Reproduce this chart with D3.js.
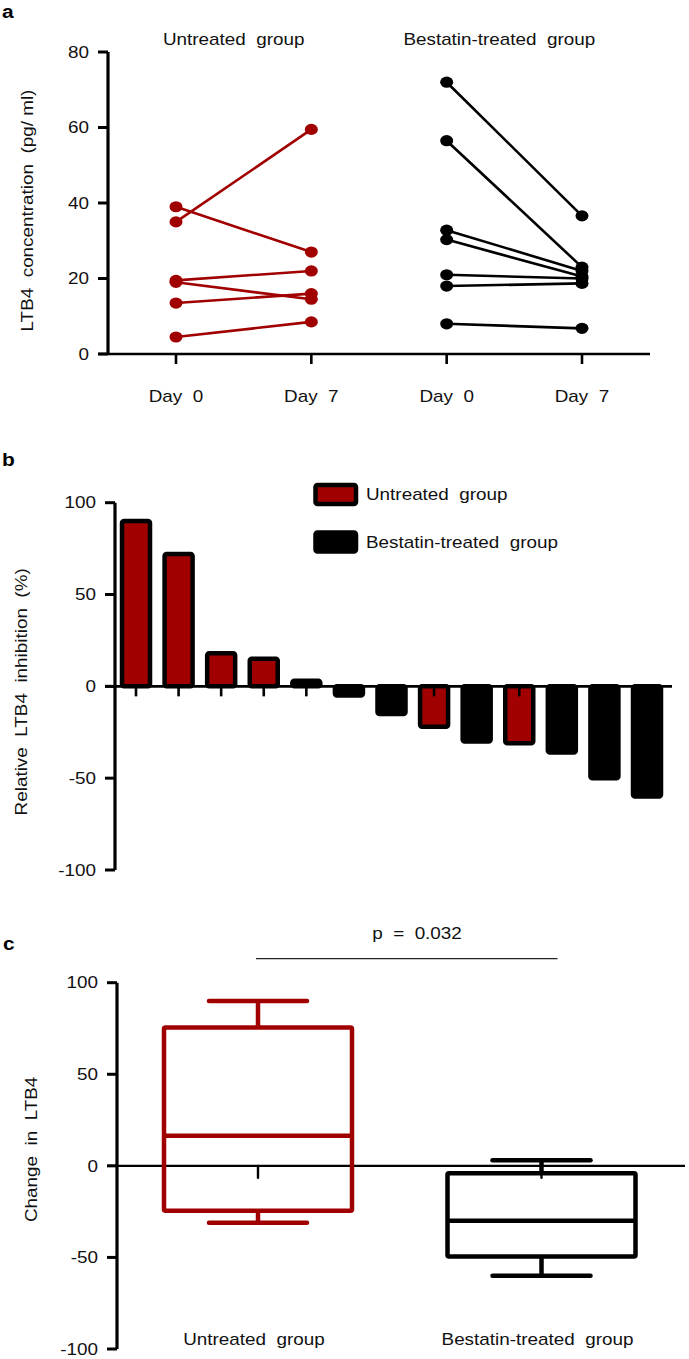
<!DOCTYPE html>
<html><head><meta charset="utf-8">
<script src="https://cdn.jsdelivr.net/npm/d3@7"></script>
<style>body{margin:0;background:#fff}svg{display:block}text{font-family:"Liberation Sans",Arial,sans-serif;white-space:pre}</style>
</head><body>
<script>
// ---------- DATA ----------
const days = ["Untreated Day 0","Untreated Day 7","Bestatin Day 0","Bestatin Day 7"];
const dayLabels = ["Day  0","Day  7","Day  0","Day  7"];
const untreatedDay0 = [35, 39, 19.5, 19, 13.5, 4.5];
const untreatedDay7 = [59.5, 27, 22, 14.5, 16, 8.5];
const bestatinDay0 = [72, 56.5, 32.8, 30.3, 21, 18, 8];
const bestatinDay7 = [36.6, 23, 22, 20.5, 20, 18.7, 6.8];
const ticksA = [0, 20, 40, 60, 80];

const barValues = [90, 72, 18, 15, 3, -5, -15, -22, -30, -31, -36, -50, -60];
const barGroups = ["U","U","U","U","B","B","B","U","B","U","B","B","B"];
const ticksB = [-100, -50, 0, 50, 100];

const boxGroups = ["Untreated  group", "Bestatin-treated  group"];
const boxWhiskerHigh = [90, 3];
const boxQ3 = [75.5, -4];
const boxMedian = [16.5, -30];
const boxQ1 = [-24.5, -49.5];
const boxWhiskerLow = [-31, -60];
const ticksC = [-100, -50, 0, 50, 100];
const pText = "p  =  0.032";

// ---------- SETUP ----------
const RED = "#a00000";
const SX = 1.18;
const svg = d3.select("body").append("svg").attr("width", 689).attr("height", 1359);

function txt(g, x, y, s, o = {}) {
  const rot = o.rotate ? ` rotate(${o.rotate})` : "";
  return g.append("text")
    .attr("transform", `translate(${x},${y})${rot} scale(${o.sx || SX},1)`)
    .attr("text-anchor", o.anchor || "middle")
    .attr("font-size", o.size || 16)
    .attr("font-weight", o.weight || "normal")
    .attr("dy", o.dy || 0)
    .attr("fill", o.fill || "#111")
    .text(s);
}

function yAxis(g, y, x, ticks, top, bottom) {
  g.append("line").attr("x1", x).attr("x2", x).attr("y1", y(top)).attr("y2", y(bottom))
    .attr("stroke", "#000").attr("stroke-width", 3.2);
  ticks.forEach(t => {
    g.append("line").attr("x1", x - 10).attr("x2", x).attr("y1", y(t)).attr("y2", y(t))
      .attr("stroke", "#000").attr("stroke-width", 3);
    txt(g, x - 19, y(t), String(t), {anchor: "end", dy: "0.36em"});
  });
}

// ---------- PANEL A ----------
{
  const g = svg.append("g");
  const y = d3.scaleLinear().domain([0, 80]).range([354, 52]);
  const x = d3.scalePoint().domain(days).range([176, 582]);
  txt(g, 2, 18, "a", {anchor: "start", size: 19, weight: "bold", sx: 1.1, fill: "#000"});
  yAxis(g, y, 108, ticksA, 80, 0);
  g.append("line").attr("x1", 98).attr("x2", 650).attr("y1", y(0)).attr("y2", y(0))
    .attr("stroke", "#000").attr("stroke-width", 2.6);
  days.forEach((d, i) => {
    g.append("line").attr("x1", x(d)).attr("x2", x(d)).attr("y1", y(0)).attr("y2", y(0) + 10)
      .attr("stroke", "#000").attr("stroke-width", 2.6);
    txt(g, x(d), 402, dayLabels[i]);
  });
  txt(g, (x(days[0]) + x(days[1])) / 2 - 10, 45, "Untreated  group");
  txt(g, (x(days[2]) + x(days[3])) / 2 - 15, 45, "Bestatin-treated  group");
  txt(g, 33, y(38), "LTB4  concentration  (pg/ ml)", {rotate: -90});

  const pairs = [
    {d0: untreatedDay0, d7: untreatedDay7, a: days[0], b: days[1], c: RED},
    {d0: bestatinDay0, d7: bestatinDay7, a: days[2], b: days[3], c: "#000"}
  ];
  pairs.forEach(p => {
    p.d0.forEach((v, i) => {
      g.append("line").attr("x1", x(p.a)).attr("y1", y(v)).attr("x2", x(p.b)).attr("y2", y(p.d7[i]))
        .attr("stroke", p.c).attr("stroke-width", 2.6);
    });
    p.d0.forEach((v, i) => {
      g.append("ellipse").attr("cx", x(p.a)).attr("cy", y(v)).attr("rx", 6.5).attr("ry", 5.6).attr("fill", p.c);
      g.append("ellipse").attr("cx", x(p.b)).attr("cy", y(p.d7[i])).attr("rx", 6.5).attr("ry", 5.6).attr("fill", p.c);
    });
  });
}

// ---------- PANEL B ----------
{
  const g = svg.append("g");
  const y = d3.scaleLinear().domain([-100, 100]).range([870, 502.7]);
  const x = d3.scalePoint().domain(d3.range(barValues.length)).range([136, 647]);
  txt(g, 2, 466, "b", {anchor: "start", size: 19, weight: "bold", sx: 1.1, fill: "#000"});
  yAxis(g, y, 115, ticksB, 100, -100);
  txt(g, 27, y(-3), "Relative  LTB4  inhibition  (%)", {rotate: -90});
  g.append("line").attr("x1", 105).attr("x2", 672).attr("y1", y(0)).attr("y2", y(0))
    .attr("stroke", "#000").attr("stroke-width", 2.6);
  const bw = 28;
  barValues.forEach((v, i) => {
    g.append("rect").attr("x", x(i) - bw / 2).attr("width", bw)
      .attr("y", Math.min(y(v), y(0))).attr("height", Math.abs(y(v) - y(0)))
      .attr("rx", 2).attr("fill", barGroups[i] === "U" ? RED : "#000")
      .attr("stroke", "#000").attr("stroke-width", 4.5);
  });
  barValues.forEach((v, i) => {
    g.append("line").attr("x1", x(i)).attr("x2", x(i)).attr("y1", y(0)).attr("y2", y(0) + 10)
      .attr("stroke", "#000").attr("stroke-width", 2.6);
  });
  // legend
  [["Untreated  group", RED, 494.5], ["Bestatin-treated  group", "#000", 542]].forEach(([l, c, cy]) => {
    g.append("rect").attr("x", 315.5).attr("y", cy - 9.5).attr("width", 40.5).attr("height", 19).attr("rx", 2)
      .attr("fill", c).attr("stroke", "#000").attr("stroke-width", 4.5);
    txt(g, 366, cy, l, {anchor: "start", dy: "0.36em"});
  });
}

// ---------- PANEL C ----------
{
  const g = svg.append("g");
  const y = d3.scaleLinear().domain([-100, 100]).range([1349, 982.7]);
  const x = d3.scalePoint().domain(boxGroups).range([258, 541.5]);
  txt(g, 3, 950, "c", {anchor: "start", size: 19, weight: "bold", sx: 1.1, fill: "#000"});
  yAxis(g, y, 117, ticksC, 100, -100);
  txt(g, 37, y(9), "Change  in  LTB4", {rotate: -90});
  g.append("line").attr("x1", 107).attr("x2", 685).attr("y1", y(0)).attr("y2", y(0))
    .attr("stroke", "#000").attr("stroke-width", 2.2);
  const boxW = 188, capW = 98;
  boxGroups.forEach((grp, i) => {
    const c = i === 0 ? RED : "#000";
    const cx = x(grp);
    const ln = (x1, y1, x2, y2, cap) => {
      const l = g.append("line").attr("x1", x1).attr("y1", y1).attr("x2", x2).attr("y2", y2)
        .attr("stroke", c).attr("stroke-width", 4.5);
      if (cap) l.attr("stroke-linecap", "round");
    };
    ln(cx, y(boxWhiskerHigh[i]), cx, y(boxQ3[i]));
    ln(cx, y(boxQ1[i]), cx, y(boxWhiskerLow[i]));
    ln(cx - capW / 2, y(boxWhiskerHigh[i]), cx + capW / 2, y(boxWhiskerHigh[i]), true);
    ln(cx - capW / 2, y(boxWhiskerLow[i]), cx + capW / 2, y(boxWhiskerLow[i]), true);
    g.append("rect").attr("x", cx - boxW / 2).attr("y", y(boxQ3[i])).attr("width", boxW)
      .attr("height", y(boxQ1[i]) - y(boxQ3[i])).attr("rx", 1.5)
      .attr("fill", "none").attr("stroke", c).attr("stroke-width", 4.5);
    ln(cx - boxW / 2, y(boxMedian[i]), cx + boxW / 2, y(boxMedian[i]));
    txt(g, cx - 4, 1345, grp);
  });
  boxGroups.forEach(grp => {
    g.append("line").attr("x1", x(grp)).attr("x2", x(grp)).attr("y1", y(0)).attr("y2", y(0) + 12)
      .attr("stroke", "#000").attr("stroke-width", 2.4).attr("stroke-linecap", "round");
  });
  g.append("line").attr("x1", x(boxGroups[0]) - 2).attr("x2", x(boxGroups[1]) + 16)
    .attr("y1", 958.7).attr("y2", 958.7).attr("stroke", "#222").attr("stroke-width", 1.3);
  txt(g, 417, 939, pText);
}
</script>
</body></html>
